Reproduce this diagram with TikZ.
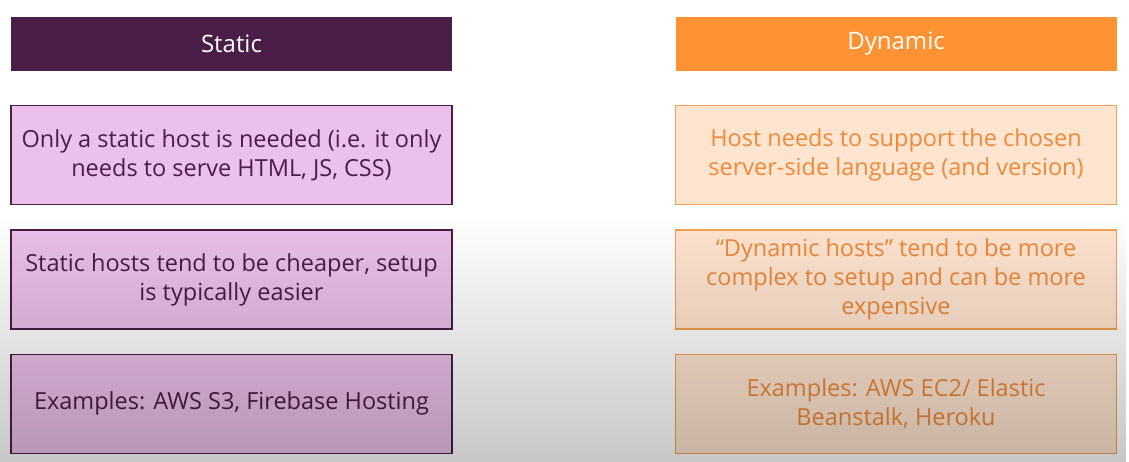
\documentclass[tikz,border=0pt]{standalone}
\usepackage{fontspec}
\setmainfont{Open Sans}
\usepackage{tikz}
\usetikzlibrary{positioning,fadings}
\usepackage{xcolor}

\definecolor{plum}{HTML}{4B1E48}
\definecolor{lilac}{HTML}{EBC0EA}
\definecolor{tangerine}{HTML}{FF9232}
\definecolor{peach}{HTML}{FFE5D0}
\definecolor{peachline}{HTML}{F0A050}
\definecolor{peachtext}{HTML}{EE8A3A}

\tikzfading[name=fadedown, top color=transparent!100, bottom color=transparent!0]

\begin{document}
\begin{tikzpicture}[
    x=1pt, y=-1pt,
    node distance = 24pt,
    head/.style={rectangle, minimum width=441pt, minimum height=54pt, inner sep=0pt, text=white, font=\fontsize{24}{26}\selectfont},
    staticblock/.style={rectangle, draw=plum, line width=1.2pt, fill=lilac, text=plum, minimum width=441pt, minimum height=99pt, inner sep=0pt, align=center, font=\fontsize{23.5}{29}\selectfont},
    dynblock/.style={staticblock, draw=peachline, fill=peach, text=peachtext}
    ]

    \useasboundingbox (0,0) rectangle (1129,462);
    \fill[white] (0,0) rectangle (1129,462);

    % static column
    \node [head, fill=plum] (statichead) at (231.5,44) {Static};
    \node [staticblock, below=34pt of statichead] (staticneed) {Only a static host is needed (i.e. it only\\needs to serve HTML, JS, CSS)};
    \node [staticblock, below=of staticneed] (staticcost) {Static hosts tend to be cheaper, setup\\is typically easier};
    \node [staticblock, below=of staticcost] (staticex) {Examples: AWS S3, Firebase Hosting};

    % dynamic column
    \node [head, fill=tangerine] (dynhead) at (896,44) {Dynamic};
    \node [dynblock, below=34pt of dynhead] (dynneed) {Host needs to support the chosen\\server-side language (and version)};
    \node [dynblock, below=of dynneed] (dyncost) {“Dynamic hosts” tend to be more\\complex to setup and can be more\\expensive};
    \node [dynblock, below=of dyncost] (dynex) {Examples: AWS EC2/ Elastic\\Beanstalk, Heroku};

    % darker bottom of the frame
    \fill[black, fill opacity=0.22, path fading=fadedown] (0,215) rectangle (1129,462);
\end{tikzpicture}
\end{document}
